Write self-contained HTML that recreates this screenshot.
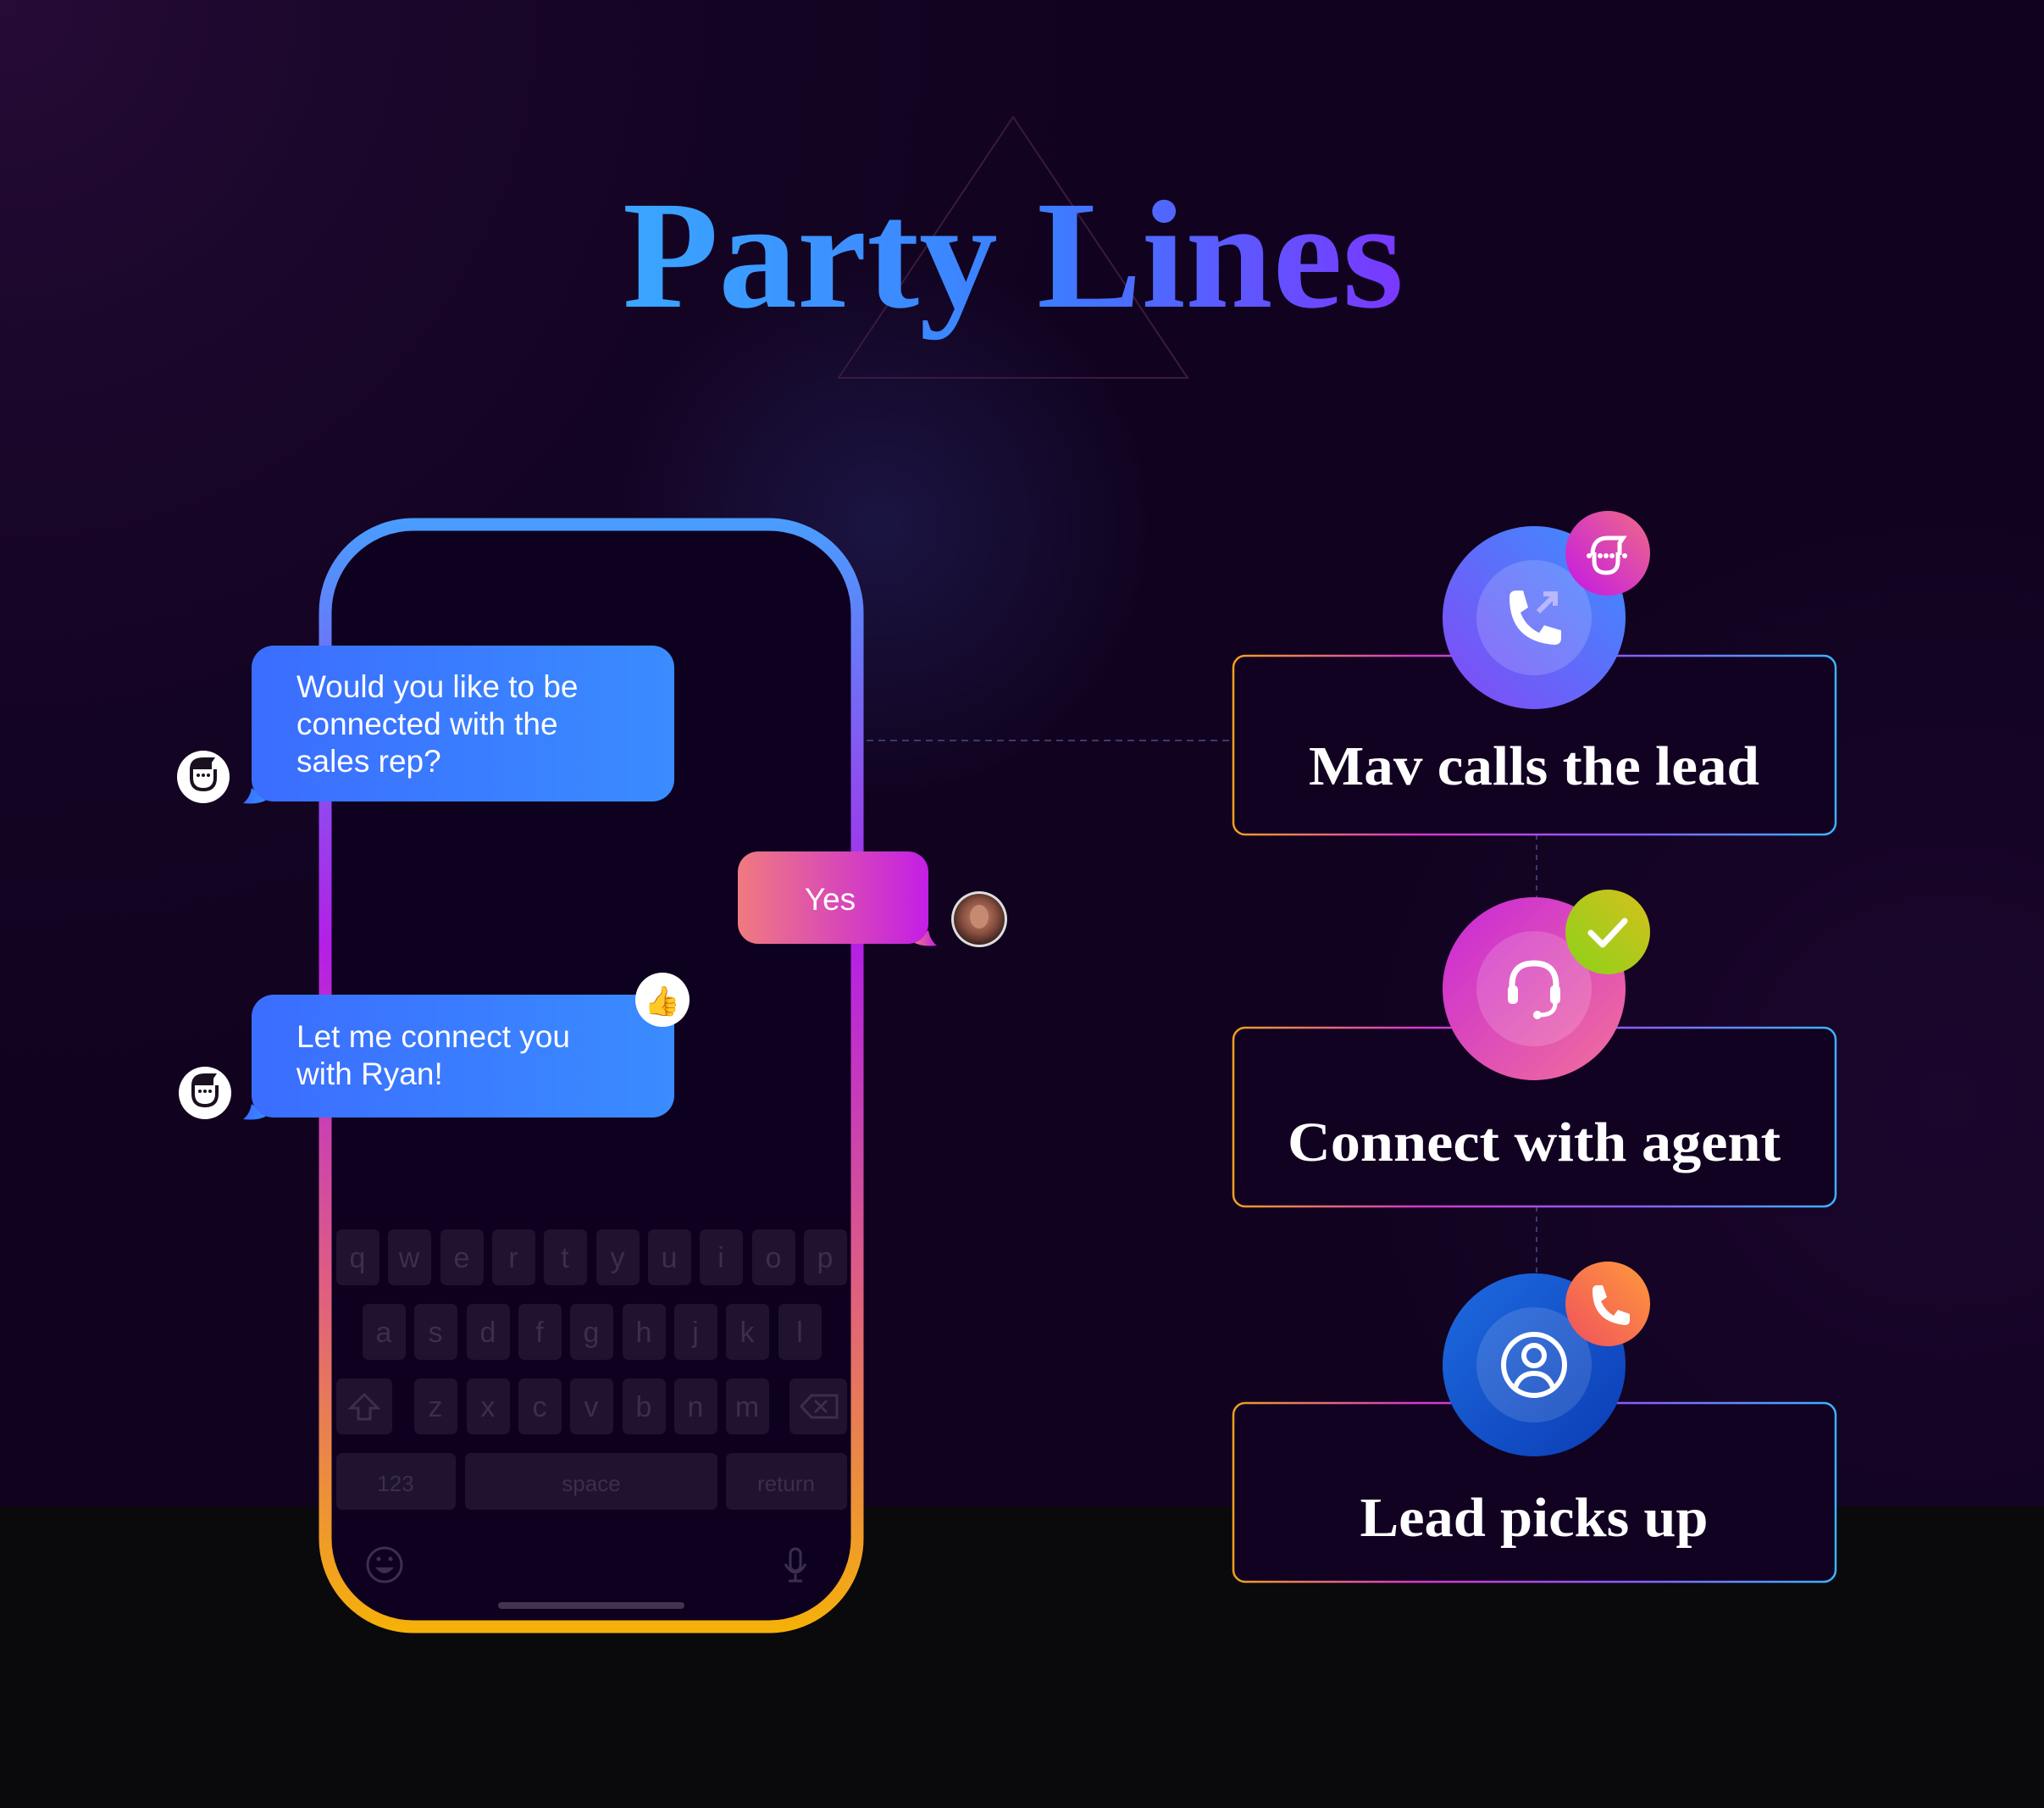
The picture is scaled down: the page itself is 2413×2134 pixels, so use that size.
<!DOCTYPE html>
<html><head><meta charset="utf-8"><style>html,body{margin:0;padding:0;background:#110320}svg{display:block}</style></head>
<body>
<svg width="2413" height="2134" viewBox="0 0 2413 2134" xmlns="http://www.w3.org/2000/svg">
<defs>
<radialGradient id="bgTL" cx="0" cy="0" r="1400" gradientUnits="userSpaceOnUse"><stop offset="0" stop-color="#260b37"/><stop offset="1" stop-color="#120322" stop-opacity="0"/></radialGradient>
<radialGradient id="glow" cx="1040" cy="620" r="320" gradientUnits="userSpaceOnUse"><stop offset="0" stop-color="#23235e" stop-opacity="0.55"/><stop offset="1" stop-color="#23235e" stop-opacity="0"/></radialGradient>
<radialGradient id="glowR" cx="2300" cy="1300" r="700" gradientUnits="userSpaceOnUse"><stop offset="0" stop-color="#2a0a40" stop-opacity="0.4"/><stop offset="1" stop-color="#2a0a40" stop-opacity="0"/></radialGradient>
<linearGradient id="title" x1="0" y1="0" x2="1" y2="0"><stop offset="0" stop-color="#3aa6ff"/><stop offset="0.55" stop-color="#3d7cff"/><stop offset="1" stop-color="#7a38ff"/></linearGradient>
<linearGradient id="phone" x1="0" y1="0" x2="0" y2="1"><stop offset="0" stop-color="#4a9cff"/><stop offset="0.38" stop-color="#b41fe6"/><stop offset="0.7" stop-color="#e0607e"/><stop offset="1" stop-color="#f5b00a"/></linearGradient>
<linearGradient id="card" x1="0" y1="0" x2="1" y2="0"><stop offset="0" stop-color="#f0a020"/><stop offset="0.3" stop-color="#d63ac8"/><stop offset="0.65" stop-color="#8a5cff"/><stop offset="1" stop-color="#3ab4ff"/></linearGradient>
<linearGradient id="bub" x1="0" y1="0" x2="1" y2="0"><stop offset="0" stop-color="#3b6dff"/><stop offset="1" stop-color="#3a8cff"/></linearGradient>
<linearGradient id="yes" x1="0" y1="0" x2="1" y2="0"><stop offset="0" stop-color="#f07a80"/><stop offset="1" stop-color="#c41ee6"/></linearGradient>
<linearGradient id="c1" x1="1" y1="0" x2="0" y2="1"><stop offset="0" stop-color="#3a90ff"/><stop offset="1" stop-color="#8448f5"/></linearGradient>
<linearGradient id="b1" x1="1" y1="0" x2="0" y2="1"><stop offset="0" stop-color="#f06a88"/><stop offset="1" stop-color="#c218e6"/></linearGradient>
<linearGradient id="c2" x1="0" y1="0" x2="1" y2="1"><stop offset="0" stop-color="#c828d8"/><stop offset="1" stop-color="#f2709a"/></linearGradient>
<linearGradient id="b2" x1="0" y1="1" x2="1" y2="0"><stop offset="0" stop-color="#8ad21a"/><stop offset="1" stop-color="#d6c01c"/></linearGradient>
<linearGradient id="c3" x1="0" y1="0" x2="1" y2="1"><stop offset="0" stop-color="#1e6ae0"/><stop offset="1" stop-color="#0b3cb4"/></linearGradient>
<linearGradient id="b3" x1="0" y1="1" x2="1" y2="0"><stop offset="0" stop-color="#f0505e"/><stop offset="1" stop-color="#ff9a3a"/></linearGradient>
<radialGradient id="face" cx="0.5" cy="0.45" r="0.6"><stop offset="0" stop-color="#c98a70"/><stop offset="0.55" stop-color="#8a5040"/><stop offset="1" stop-color="#2a1a1a"/></radialGradient>
</defs>

<rect width="2413" height="2134" fill="#110320"/>
<rect width="2413" height="2134" fill="url(#bgTL)"/>
<rect width="2413" height="2134" fill="url(#glowR)"/>
<rect width="2413" height="2134" fill="url(#glow)"/>
<rect y="1778" width="2413" height="356" fill="#0a090b"/>

<polygon points="1196,138 990,446 1402,446" fill="none" stroke="#3a1a3e" stroke-width="2"/>
<text x="1196" y="362" text-anchor="middle" font-family="Liberation Serif, serif" font-weight="bold" font-size="182" fill="url(#title)" textLength="922" lengthAdjust="spacingAndGlyphs">Party Lines</text>

<line x1="1023" y1="874" x2="1456" y2="874" stroke="#3a3a70" stroke-width="2" stroke-dasharray="8,6"/>
<line x1="1814" y1="985" x2="1814" y2="1062" stroke="#3a3a70" stroke-width="2" stroke-dasharray="6,6"/>
<line x1="1814" y1="1424" x2="1814" y2="1505" stroke="#3a3a70" stroke-width="2" stroke-dasharray="6,6"/>

<rect x="384" y="619" width="628" height="1301" rx="104" fill="#0e0120" stroke="url(#phone)" stroke-width="15"/>

<g fill="#1f132f">
<rect x="397" y="1451" width="51" height="66" rx="7"/><rect x="458" y="1451" width="51" height="66" rx="7"/><rect x="520" y="1451" width="51" height="66" rx="7"/><rect x="581" y="1451" width="51" height="66" rx="7"/><rect x="642" y="1451" width="51" height="66" rx="7"/><rect x="704" y="1451" width="51" height="66" rx="7"/><rect x="765" y="1451" width="51" height="66" rx="7"/><rect x="826" y="1451" width="51" height="66" rx="7"/><rect x="888" y="1451" width="51" height="66" rx="7"/><rect x="949" y="1451" width="51" height="66" rx="7"/>
<rect x="428" y="1539" width="51" height="66" rx="7"/><rect x="489" y="1539" width="51" height="66" rx="7"/><rect x="551" y="1539" width="51" height="66" rx="7"/><rect x="612" y="1539" width="51" height="66" rx="7"/><rect x="673" y="1539" width="51" height="66" rx="7"/><rect x="735" y="1539" width="51" height="66" rx="7"/><rect x="796" y="1539" width="51" height="66" rx="7"/><rect x="857" y="1539" width="51" height="66" rx="7"/><rect x="919" y="1539" width="51" height="66" rx="7"/>
<rect x="397" y="1627" width="66" height="66" rx="7"/>
<rect x="489" y="1627" width="51" height="66" rx="7"/><rect x="551" y="1627" width="51" height="66" rx="7"/><rect x="612" y="1627" width="51" height="66" rx="7"/><rect x="673" y="1627" width="51" height="66" rx="7"/><rect x="735" y="1627" width="51" height="66" rx="7"/><rect x="796" y="1627" width="51" height="66" rx="7"/><rect x="857" y="1627" width="51" height="66" rx="7"/>
<rect x="932" y="1627" width="68" height="66" rx="7"/>
<rect x="397" y="1715" width="141" height="67" rx="7"/><rect x="549" y="1715" width="298" height="67" rx="7"/><rect x="857" y="1715" width="143" height="67" rx="7"/>
</g>
<g fill="#3b2e4e" font-family="Liberation Sans, sans-serif" font-size="34" text-anchor="middle">
<text x="422" y="1496">q</text><text x="483" y="1496">w</text><text x="545" y="1496">e</text><text x="606" y="1496">r</text><text x="667" y="1496">t</text><text x="729" y="1496">y</text><text x="790" y="1496">u</text><text x="851" y="1496">i</text><text x="913" y="1496">o</text><text x="974" y="1496">p</text>
<text x="453" y="1584">a</text><text x="514" y="1584">s</text><text x="576" y="1584">d</text><text x="637" y="1584">f</text><text x="698" y="1584">g</text><text x="760" y="1584">h</text><text x="821" y="1584">j</text><text x="882" y="1584">k</text><text x="944" y="1584">l</text>
<text x="514" y="1672">z</text><text x="576" y="1672">x</text><text x="637" y="1672">c</text><text x="698" y="1672">v</text><text x="760" y="1672">b</text><text x="821" y="1672">n</text><text x="882" y="1672">m</text>
<text x="467" y="1760" font-size="26">123</text><text x="698" y="1760" font-size="26">space</text><text x="928" y="1760" font-size="26">return</text>
</g>
<path d="M430 1646 l-16 16 h9 v13 h14 v-13 h9 z" fill="none" stroke="#3b2e4e" stroke-width="3"/>
<path d="M946 1660 l12 -13 h30 v26 h-30 z M962 1653 l14 14 M976 1653 l-14 14" fill="none" stroke="#3b2e4e" stroke-width="3"/>
<circle cx="454" cy="1847" r="20" fill="none" stroke="#3b2e4e" stroke-width="3"/>
<path d="M443 1850 q11 14 22 0 z" fill="#3b2e4e"/><circle cx="447" cy="1840" r="2.5" fill="#3b2e4e"/><circle cx="461" cy="1840" r="2.5" fill="#3b2e4e"/>
<rect x="933" y="1828" width="12" height="26" rx="6" fill="none" stroke="#3b2e4e" stroke-width="3"/>
<path d="M927 1846 q12 20 24 0 M939 1858 v8 M931 1866 h16" fill="none" stroke="#3b2e4e" stroke-width="3"/>
<rect x="588" y="1891" width="220" height="8" rx="4" fill="#40344f"/>

<path d="M297 930 q-2 12 -10 18 q18 2 28 -4 z" fill="url(#bub)"/>
<rect x="297" y="762" width="499" height="184" rx="26" fill="url(#bub)"/>
<g fill="#ffffff" font-family="Liberation Sans, sans-serif" font-size="37">
<text x="350" y="823">Would you like to be</text><text x="350" y="867">connected with the</text><text x="350" y="911">sales rep?</text>
</g>
<path d="M1096 1098 q2 12 10 18 q-18 2 -28 -4 z" fill="url(#yes)"/>
<rect x="871" y="1005" width="225" height="109" rx="24" fill="url(#yes)"/>
<text x="980" y="1074" text-anchor="middle" fill="#fff" font-family="Liberation Sans, sans-serif" font-size="37">Yes</text>
<path d="M297 1303 q-2 12 -10 18 q18 2 28 -4 z" fill="url(#bub)"/>
<rect x="297" y="1174" width="499" height="145" rx="26" fill="url(#bub)"/>
<g fill="#ffffff" font-family="Liberation Sans, sans-serif" font-size="37">
<text x="350" y="1236">Let me connect you</text><text x="350" y="1280">with Ryan!</text>
</g>
<circle cx="782" cy="1180" r="32" fill="#fff"/>
<text x="782" y="1193" text-anchor="middle" font-size="34" font-family="DejaVu Sans, sans-serif" fill="#f5b31a">👍</text>

<g>
<circle cx="240" cy="917" r="31" fill="#fff"/>
<path d="M224 908 q0 -14 16 -14 h14 l-4 6 v8 z" fill="#1a1020"/>
<path d="M226 908 v10 q0 14 14 14 q14 0 14 -14 v-10" fill="none" stroke="#1a1020" stroke-width="4"/>
<circle cx="234" cy="915" r="2" fill="#1a1020"/><circle cx="240" cy="915" r="2" fill="#1a1020"/><circle cx="246" cy="915" r="2" fill="#1a1020"/>
<circle cx="242" cy="1290" r="31" fill="#fff"/>
<path d="M226 1281 q0 -14 16 -14 h14 l-4 6 v8 z" fill="#1a1020"/>
<path d="M228 1281 v10 q0 14 14 14 q14 0 14 -14 v-10" fill="none" stroke="#1a1020" stroke-width="4"/>
<circle cx="236" cy="1288" r="2" fill="#1a1020"/><circle cx="242" cy="1288" r="2" fill="#1a1020"/><circle cx="248" cy="1288" r="2" fill="#1a1020"/>
</g>
<circle cx="1156" cy="1085" r="33" fill="#ddd"/>
<circle cx="1156" cy="1085" r="30" fill="url(#face)"/>
<ellipse cx="1156" cy="1082" rx="11" ry="14" fill="#c68a72"/>

<rect x="1456" y="774" width="711" height="211" rx="14" fill="#120222" stroke="url(#card)" stroke-width="2.5"/>
<rect x="1456" y="1213" width="711" height="211" rx="14" fill="#120222" stroke="url(#card)" stroke-width="2.5"/>
<rect x="1456" y="1656" width="711" height="211" rx="14" fill="#120222" stroke="url(#card)" stroke-width="2.5"/>

<g font-family="Liberation Serif, serif" font-weight="bold" font-size="66" fill="#fff" text-anchor="middle">
<text x="1811" y="926" textLength="532" lengthAdjust="spacingAndGlyphs">Mav calls the lead</text>
<text x="1811" y="1370" textLength="582" lengthAdjust="spacingAndGlyphs">Connect with agent</text>
<text x="1811" y="1813" textLength="411" lengthAdjust="spacingAndGlyphs">Lead picks up</text>
</g>

<circle cx="1811" cy="729" r="108" fill="url(#c1)"/>
<circle cx="1811" cy="729" r="68" fill="#ffffff" fill-opacity="0.16"/>
<path d="M1782 705 q0 -8 8 -8 l8 0 l6 20 l-9 6 q6 16 22 24 l6 -9 l20 6 v9 q0 8 -8 8 q-53 -4 -53 -56 z" fill="#fff"/>
<path d="M1816 722 l20 -20 M1822 701 h14 v14" stroke="#b8b8ff" stroke-width="6" fill="none"/>
<circle cx="1898" cy="653" r="50" fill="url(#b1)"/>
<path d="M1880 655 q0 -20 18 -20 h18 l-4 6 v14" fill="none" stroke="#fff" stroke-width="5"/>
<path d="M1882 652 v10 q0 14 14 14 q14 0 14 -14 v-10" fill="none" stroke="#fff" stroke-width="5"/>
<circle cx="1876" cy="656" r="3" fill="#fff"/><circle cx="1889" cy="656" r="3" fill="#fff"/><circle cx="1896" cy="656" r="3" fill="#fff"/><circle cx="1903" cy="656" r="3" fill="#fff"/><circle cx="1918" cy="656" r="3" fill="#fff"/>

<circle cx="1811" cy="1167" r="108" fill="url(#c2)"/>
<circle cx="1811" cy="1167" r="68" fill="#ffffff" fill-opacity="0.16"/>
<path d="M1785 1175 v-12 q0 -26 26 -26 q26 0 26 26 v12" fill="none" stroke="#fff" stroke-width="7"/>
<rect x="1780" y="1163" width="12" height="22" rx="5" fill="#fff"/><rect x="1830" y="1163" width="12" height="22" rx="5" fill="#fff"/>
<path d="M1836 1184 q0 14 -18 14" fill="none" stroke="#fff" stroke-width="5"/><circle cx="1815" cy="1198" r="5" fill="#fff"/>
<circle cx="1898" cy="1100" r="50" fill="url(#b2)"/>
<path d="M1878 1101 l14 14 l26 -28" fill="none" stroke="#fff" stroke-width="7" stroke-linecap="round" stroke-linejoin="round"/>

<circle cx="1811" cy="1611" r="108" fill="url(#c3)"/>
<circle cx="1811" cy="1611" r="68" fill="#ffffff" fill-opacity="0.13"/>
<circle cx="1811" cy="1611" r="36" fill="none" stroke="#fff" stroke-width="6"/>
<circle cx="1811" cy="1600" r="12" fill="none" stroke="#fff" stroke-width="6"/>
<path d="M1789 1637 q6 -16 22 -16 q16 0 22 16" fill="none" stroke="#fff" stroke-width="6"/>
<circle cx="1898" cy="1539" r="50" fill="url(#b3)"/>
<path d="M1880 1523 q0 -6 6 -6 l6 0 l5 14 l-7 5 q5 11 15 17 l5 -7 l14 5 v7 q0 6 -6 6 q-38 -4 -38 -41 z" fill="#fff"/>
</svg>
</body></html>
